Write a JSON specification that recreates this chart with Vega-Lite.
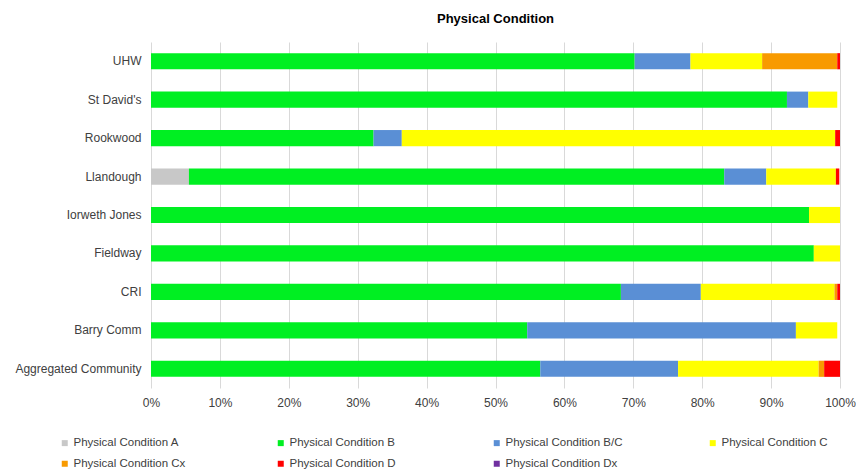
{
  "$schema": "https://vega.github.io/schema/vega-lite/v6.json",
  "width": 689,
  "height": 346,
  "autosize": {"type": "none"},
  "padding": {"left": 151, "top": 42, "right": 16, "bottom": 84},
  "background": "white",
  "config": {
    "font": "Liberation Sans",
    "view": {"stroke": null}
  },
  "title": {
    "text": "Physical Condition",
    "fontSize": 13,
    "fontWeight": "bold",
    "color": "#000000",
    "anchor": "middle",
    "offset": 16
  },
  "data": {
    "values": [
      {"site": "UHW", "condition": "Physical Condition B", "pct": 70.2},
      {"site": "UHW", "condition": "Physical Condition B/C", "pct": 8.1},
      {"site": "UHW", "condition": "Physical Condition C", "pct": 10.4},
      {"site": "UHW", "condition": "Physical Condition Cx", "pct": 10.9},
      {"site": "UHW", "condition": "Physical Condition D", "pct": 0.4},
      {"site": "St David's", "condition": "Physical Condition B", "pct": 92.3},
      {"site": "St David's", "condition": "Physical Condition B/C", "pct": 3.1},
      {"site": "St David's", "condition": "Physical Condition C", "pct": 4.2},
      {"site": "Rookwood", "condition": "Physical Condition B", "pct": 32.3},
      {"site": "Rookwood", "condition": "Physical Condition B/C", "pct": 4.1},
      {"site": "Rookwood", "condition": "Physical Condition C", "pct": 62.9},
      {"site": "Rookwood", "condition": "Physical Condition D", "pct": 0.7},
      {"site": "Llandough", "condition": "Physical Condition A", "pct": 5.5},
      {"site": "Llandough", "condition": "Physical Condition B", "pct": 77.7},
      {"site": "Llandough", "condition": "Physical Condition B/C", "pct": 6.1},
      {"site": "Llandough", "condition": "Physical Condition C", "pct": 10.1},
      {"site": "Llandough", "condition": "Physical Condition D", "pct": 0.5},
      {"site": "Iorweth Jones", "condition": "Physical Condition B", "pct": 95.5},
      {"site": "Iorweth Jones", "condition": "Physical Condition C", "pct": 4.5},
      {"site": "Fieldway", "condition": "Physical Condition B", "pct": 96.2},
      {"site": "Fieldway", "condition": "Physical Condition C", "pct": 3.8},
      {"site": "CRI", "condition": "Physical Condition B", "pct": 68.2},
      {"site": "CRI", "condition": "Physical Condition B/C", "pct": 11.6},
      {"site": "CRI", "condition": "Physical Condition C", "pct": 19.4},
      {"site": "CRI", "condition": "Physical Condition Cx", "pct": 0.4},
      {"site": "CRI", "condition": "Physical Condition D", "pct": 0.4},
      {"site": "Barry Comm", "condition": "Physical Condition B", "pct": 54.6},
      {"site": "Barry Comm", "condition": "Physical Condition B/C", "pct": 39.0},
      {"site": "Barry Comm", "condition": "Physical Condition C", "pct": 6.0},
      {"site": "Aggregated Community", "condition": "Physical Condition B", "pct": 56.5},
      {"site": "Aggregated Community", "condition": "Physical Condition B/C", "pct": 20.0},
      {"site": "Aggregated Community", "condition": "Physical Condition C", "pct": 20.4},
      {"site": "Aggregated Community", "condition": "Physical Condition Cx", "pct": 0.8},
      {"site": "Aggregated Community", "condition": "Physical Condition D", "pct": 2.3}
    ]
  },
  "mark": {"type": "bar"},
  "encoding": {
    "y": {
      "field": "site",
      "type": "nominal",
      "sort": ["UHW", "St David's", "Rookwood", "Llandough", "Iorweth Jones", "Fieldway", "CRI", "Barry Comm", "Aggregated Community"],
      "scale": {"paddingInner": 0.58, "paddingOuter": 0.29},
      "axis": {
        "title": null,
        "ticks": false,
        "domain": false,
        "labelFontSize": 12,
        "labelColor": "#404040",
        "labelPadding": 10
      }
    },
    "x": {
      "field": "pct",
      "type": "quantitative",
      "stack": "zero",
      "scale": {"domain": [0, 100], "nice": false},
      "axis": {
        "title": null,
        "values": [0, 10, 20, 30, 40, 50, 60, 70, 80, 90, 100],
        "labelExpr": "datum.value + '%'",
        "labelFlush": false,
        "ticks": false,
        "domain": false,
        "grid": true,
        "gridColor": "#d9d9d9",
        "labelFontSize": 12,
        "labelColor": "#404040",
        "labelPadding": 9
      }
    },
    "color": {
      "field": "condition",
      "type": "nominal",
      "scale": {
        "domain": ["Physical Condition A", "Physical Condition B", "Physical Condition B/C", "Physical Condition C", "Physical Condition Cx", "Physical Condition D", "Physical Condition Dx"],
        "range": ["#c8c8c8", "#00ef22", "#5a8fd5", "#ffff00", "#f89a00", "#ff0000", "#7030a0"]
      },
      "legend": {
        "title": null,
        "orient": "none",
        "legendX": -92,
        "legendY": 395,
        "direction": "horizontal",
        "columns": 4,
        "gridAlign": "all",
        "symbolType": "square",
        "symbolSize": 36,
        "symbolStrokeWidth": 0,
        "labelFontSize": 11.5,
        "labelColor": "#404040",
        "labelOffset": 3,
        "columnPadding": 84,
        "rowPadding": 8,
        "labelLimit": 200
      }
    }
  }
}
